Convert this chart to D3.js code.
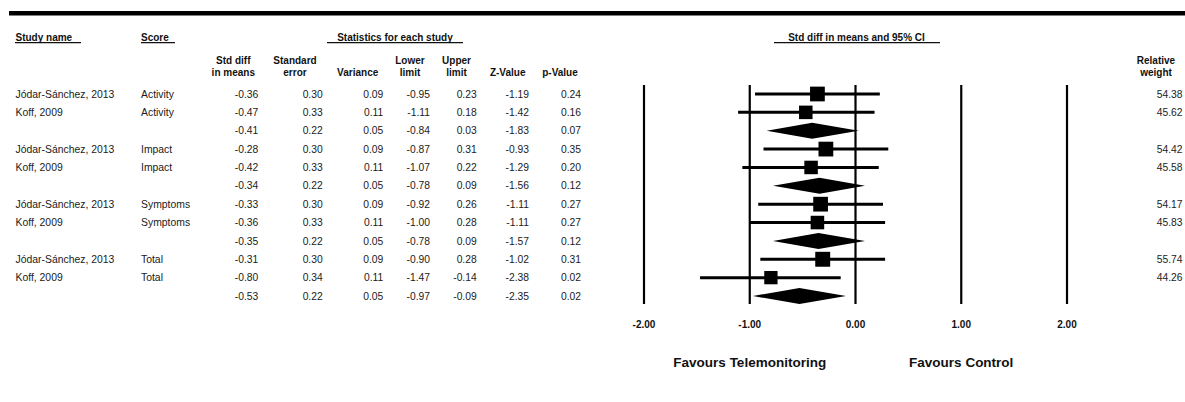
<!DOCTYPE html>
<html>
<head>
<meta charset="utf-8">
<script src="https://cdn.jsdelivr.net/npm/d3@7/dist/d3.min.js"></script>
<style>
  html, body { margin: 0; padding: 0; background: #fff; }
  svg { display: block; font-family: "Liberation Sans", Arial, sans-serif; }
</style>
</head>
<body>
<svg id="chart" width="1185" height="402"></svg>
<script>
// Forest plot: telemonitoring vs control, std diff in means by score domain
const studyNames = ["Jódar-Sánchez, 2013", "Koff, 2009", "",
                    "Jódar-Sánchez, 2013", "Koff, 2009", "",
                    "Jódar-Sánchez, 2013", "Koff, 2009", "",
                    "Jódar-Sánchez, 2013", "Koff, 2009", ""];
const scores = ["Activity", "Activity", "",
                "Impact", "Impact", "",
                "Symptoms", "Symptoms", "",
                "Total", "Total", ""];
const isSummary = [false, false, true, false, false, true, false, false, true, false, false, true];
const stdDiff   = [-0.36, -0.47, -0.41, -0.28, -0.42, -0.34, -0.33, -0.36, -0.35, -0.31, -0.80, -0.53];
const stdError  = [0.30, 0.33, 0.22, 0.30, 0.33, 0.22, 0.30, 0.33, 0.22, 0.30, 0.34, 0.22];
const variance  = [0.09, 0.11, 0.05, 0.09, 0.11, 0.05, 0.09, 0.11, 0.05, 0.09, 0.11, 0.05];
const lowerLim  = [-0.95, -1.11, -0.84, -0.87, -1.07, -0.78, -0.92, -1.00, -0.78, -0.90, -1.47, -0.97];
const upperLim  = [0.23, 0.18, 0.03, 0.31, 0.22, 0.09, 0.26, 0.28, 0.09, 0.28, -0.14, -0.09];
const zValue    = [-1.19, -1.42, -1.83, -0.93, -1.29, -1.56, -1.11, -1.11, -1.57, -1.02, -2.38, -2.35];
const pValue    = [0.24, 0.16, 0.07, 0.35, 0.20, 0.12, 0.27, 0.27, 0.12, 0.31, 0.02, 0.02];
const relWeight = [54.38, 45.62, null, 54.42, 45.58, null, 54.17, 45.83, null, 55.74, 44.26, null];
const axisTicks = [-2, -1, 0, 1, 2];
const favourLabels = [{ text: "Favours Telemonitoring", at: -1 }, { text: "Favours Control", at: 1 }];

// two decimals with a plain hyphen for negatives
const fmt = d3.formatLocale({ decimal: ".", thousands: ",", grouping: [3], currency: ["", ""], minus: "-" }).format(".2f");
const svg = d3.select("#chart");

const x = d3.scaleLinear().domain([-2, 2]).range([644, 1067]);
const y = d3.scaleLinear().domain([0, studyNames.length - 1]).range([94, 296]);
const rows = d3.range(studyNames.length);

// heavy rule across the top
svg.append("line").attr("x1", 9).attr("x2", 1185).attr("y1", 13.3).attr("y2", 13.3)
  .attr("stroke", "#000").attr("stroke-width", 4.5);

// underlined section headings
const headings = [
  { text: "Study name", x: 15.5, anchor: "start", u0: 15, u1: 81 },
  { text: "Score", x: 141, anchor: "start", u0: 141, u1: 175 },
  { text: "Statistics for each study", x: 395, anchor: "middle", u0: 327, u1: 463 },
  { text: "Std diff in means and 95% CI", x: 856.5, anchor: "middle", u0: 774, u1: 940 }
];
headings.forEach(h => {
  svg.append("text").attr("x", h.x).attr("y", 37.7).attr("dy", "0.35em")
    .attr("text-anchor", h.anchor).attr("font-size", 10).attr("font-weight", "bold")
    .attr("fill", "#111").text(h.text);
  svg.append("line").attr("x1", h.u0).attr("x2", h.u1).attr("y1", 42.6).attr("y2", 42.6)
    .attr("stroke", "#111").attr("stroke-width", 1.3);
});

// statistics columns
const columns = [
  { head: ["Std diff", "in means"], values: stdDiff, right: 258.3, center: 233.3 },
  { head: ["Standard", "error"], values: stdError, right: 322.7, center: 295 },
  { head: ["Variance"], values: variance, right: 383.3, center: 357.7 },
  { head: ["Lower", "limit"], values: lowerLim, right: 430, center: 410 },
  { head: ["Upper", "limit"], values: upperLim, right: 476.7, center: 456.5 },
  { head: ["Z-Value"], values: zValue, right: 529, center: 507.7 },
  { head: ["p-Value"], values: pValue, right: 581, center: 560 },
  { head: ["Relative", "weight"], values: relWeight, right: 1182.5, center: 1156 }
];

columns.forEach(col => {
  const lines = col.head;
  lines.forEach((t, i) => {
    const yy = lines.length === 2 ? (i === 0 ? 60.5 : 72.5) : 72.5;
    svg.append("text").attr("x", col.center).attr("y", yy).attr("dy", "0.35em")
      .attr("text-anchor", "middle").attr("font-size", 10).attr("font-weight", "bold")
      .attr("fill", "#111").text(t);
  });
  svg.append("g").selectAll("text").data(rows.filter(i => col.values[i] != null)).join("text")
    .attr("x", col.right).attr("y", i => y(i)).attr("dy", "0.35em")
    .attr("text-anchor", "end").attr("font-size", 10.3).attr("fill", "#1a1a1a")
    .text(i => fmt(col.values[i]));
});

// study names and scores
svg.append("g").selectAll("text").data(rows.filter(i => studyNames[i])).join("text")
  .attr("x", 15.5).attr("y", i => y(i)).attr("dy", "0.35em")
  .attr("font-size", 10.4).attr("fill", "#1a1a1a").text(i => studyNames[i]);
svg.append("g").selectAll("text").data(rows.filter(i => scores[i])).join("text")
  .attr("x", 141).attr("y", i => y(i)).attr("dy", "0.35em")
  .attr("font-size", 10.4).attr("fill", "#1a1a1a").text(i => scores[i]);

// reference lines at each tick
svg.append("g").selectAll("line").data(axisTicks).join("line")
  .attr("x1", d => x(d)).attr("x2", d => x(d)).attr("y1", 85).attr("y2", 304)
  .attr("stroke", "#000").attr("stroke-width", 2.2);

svg.append("g").selectAll("text").data(axisTicks).join("text")
  .attr("x", d => x(d)).attr("y", 324).attr("dy", "0.35em")
  .attr("text-anchor", "middle").attr("font-size", 10).attr("font-weight", "bold")
  .attr("fill", "#111").text(d => fmt(d));

// confidence intervals and weighted squares for individual studies
const studyRows = rows.filter(i => !isSummary[i]);
svg.append("g").selectAll("line").data(studyRows).join("line")
  .attr("x1", i => x(lowerLim[i])).attr("x2", i => x(upperLim[i]))
  .attr("y1", i => y(i)).attr("y2", i => y(i))
  .attr("stroke", "#000").attr("stroke-width", 3);

svg.append("g").selectAll("rect").data(studyRows).join("rect")
  .each(function (i) {
    const s = 2 * Math.sqrt(relWeight[i]);
    d3.select(this).attr("x", x(stdDiff[i]) - s / 2).attr("y", y(i) - s / 2)
      .attr("width", s).attr("height", s);
  })
  .attr("fill", "#000");

// pooled estimates as diamonds
const sumRows = rows.filter(i => isSummary[i]);
svg.append("g").selectAll("path").data(sumRows).join("path")
  .attr("d", i => {
    const yy = y(i), h = 8;
    return `M${x(lowerLim[i])},${yy}L${x(stdDiff[i])},${yy - h}L${x(upperLim[i])},${yy}L${x(stdDiff[i])},${yy + h}Z`;
  })
  .attr("fill", "#000");

// direction labels
svg.append("g").selectAll("text").data(favourLabels).join("text")
  .attr("x", d => x(d.at)).attr("y", 362).attr("dy", "0.35em")
  .attr("text-anchor", "middle").attr("font-size", 13.5).attr("font-weight", "bold")
  .attr("fill", "#111").text(d => d.text);
</script>
</body>
</html>
